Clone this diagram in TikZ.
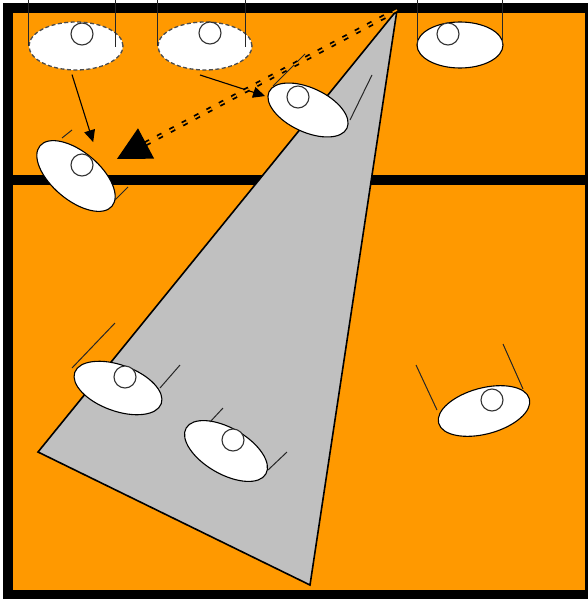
\documentclass[tikz,border=0pt]{standalone}
\usetikzlibrary{arrows.meta, shapes.geometric}
\definecolor{stage}{HTML}{FF9900}
\definecolor{cone}{HTML}{C0C0C0}

\begin{document}
\begin{tikzpicture}[x=1pt, y=-1pt,
    lamp/.style={draw, ellipse, fill=white, line width=1.1pt, inner sep=0pt, outer sep=0pt,
      minimum width=94pt, minimum height=48pt},
    ghost/.style={lamp, draw=black!70, line width=1.3pt, dash pattern=on 4pt off 2.5pt},
    bulb/.style={draw=black!80, circle, fill=white, line width=1.1pt, inner sep=0pt, minimum size=22pt},
    wire/.style={draw=black!85, line width=1pt},
    cue/.style={draw, line width=1.1pt, -{Triangle[length=12pt, width=11pt]}},
    beam/.style={draw, line width=1.8pt, double=stage, double distance=1.5pt,
      dash pattern=on 5pt off 9pt, -{Triangle[length=33pt, width=34pt]}}]

  \useasboundingbox (0,0) rectangle (588,599);

  % room and divider
  \fill[stage] (8,8) rectangle (590,595);
  \draw[line width=9.5pt] (8,8) rectangle (590,595);
  \draw[line width=9.5pt] (8,180) -- (590,180);

  % light cone
  \coordinate (apex) at (397,10);
  \filldraw[fill=cone, line width=1.6pt] (apex) -- (38,452) -- (310,585) -- cycle;

  % lamps
  \node[ghost] (ghostL) at (76,46) {};
  \node[ghost] (ghostR) at (205,46) {};
  \node[lamp, minimum width=86pt, minimum height=46pt] (hangR) at (460,45) {};
  \node[lamp, rotate=-40] (swingL) at (76,176) {};
  \node[lamp, minimum width=86pt, minimum height=44pt, rotate=-25] (swingM) at (308,110) {};
  \node[lamp, minimum width=92pt, minimum height=46pt, rotate=-20] (floorL) at (118,388) {};
  \node[lamp, minimum width=92pt, minimum height=46pt, rotate=-30] (floorM) at (226,451) {};
  \node[lamp, minimum height=46pt, rotate=15] (floorR) at (484,411) {};

  \node[bulb] (ghostLbulb) at (82,34) {};
  \node[bulb] (ghostRbulb) at (210,33) {};
  \node[bulb] (hangRbulb) at (448,34) {};
  \node[bulb] (swingLbulb) at (82,165) {};
  \node[bulb] (swingMbulb) at (298,97) {};
  \node[bulb] (floorLbulb) at (125,377) {};
  \node[bulb] (floorMbulb) at (233,440) {};
  \node[bulb] (floorRbulb) at (492,400) {};

  % wires
  \draw[wire] (28,0) -- (28,46);
  \draw[wire] (115,0) -- (115,47);
  \draw[wire] (157,0) -- (157,46);
  \draw[wire] (245,0) -- (245,47);
  \draw[wire] (417,0) -- (417,46);
  \draw[wire] (502,0) -- (502,45);
  \draw[wire] (62,138) -- (72,130);
  \draw[wire] (115,200) -- (128,187);
  \draw[wire] (273,86) -- (305,54);
  \draw[wire] (350,120) -- (372,75);
  \draw[wire] (72,368) -- (115,323);
  \draw[wire] (160,388) -- (180,365);
  \draw[wire] (210,422) -- (223,408);
  \draw[wire] (268,470) -- (287,452);
  \draw[wire] (437,410) -- (416,365);
  \draw[wire] (523,389) -- (503,344);

  % moves
  \draw[cue, shorten <=5pt, shorten >=26pt] (ghostL.257) -- (swingL.60);
  \draw[cue, shorten >=3pt] ([shift={(-5,5)}]ghostR.south) -- (swingM.187);
  \draw[beam, shorten >=17.7pt] (apex) -- (swingL.59);
\end{tikzpicture}
\end{document}
